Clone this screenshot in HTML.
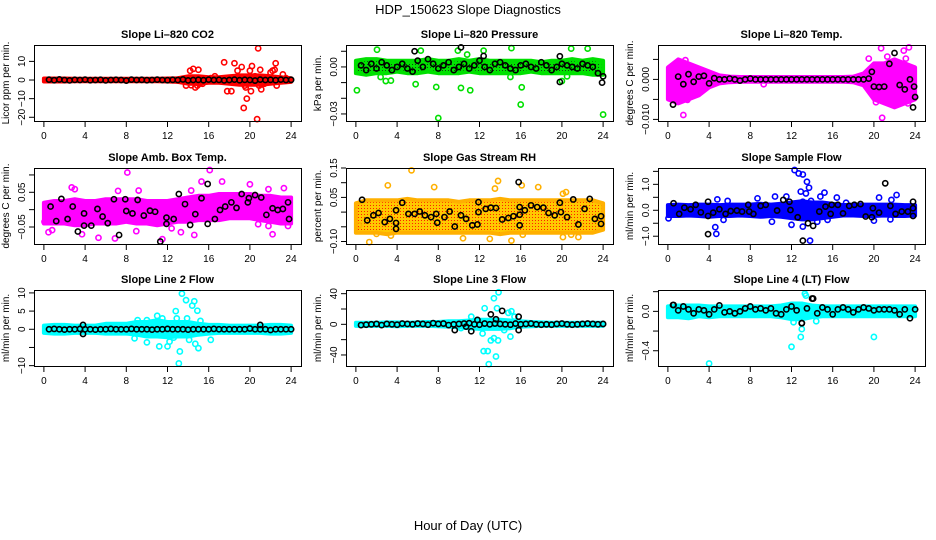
<!DOCTYPE html>
<html><head><meta charset="utf-8"><style>
html,body{margin:0;padding:0;background:#fff;width:936px;height:540px;overflow:hidden}
svg text{font-family:"Liberation Sans",sans-serif}
</style></head><body>
<svg id="chart" width="936" height="540" xmlns="http://www.w3.org/2000/svg">
<defs>
<pattern id="patG" width="3" height="3" patternUnits="userSpaceOnUse"><rect width="3" height="3" fill="#00e400"/><rect x="1" y="1" width="1" height="1" fill="#114411"/></pattern>
<pattern id="patO" width="3" height="3" patternUnits="userSpaceOnUse"><rect width="3" height="3" fill="#ffc800"/><rect x="1" y="1" width="1" height="1" fill="#ff2000"/></pattern>
</defs>
<text x="468" y="14" font-size="13" text-anchor="middle">HDP_150623  Slope Diagnostics</text>
<text x="468" y="530" font-size="13" text-anchor="middle">Hour of Day (UTC)</text>
</svg>
<script>
// ---- shared data ----
const xTicks=[0,4,8,12,16,20,24];
const stdHours=[0.5,1,1.5,2,2.5,3,3.5,4,4.5,5,5.5,6,6.5,7,7.5,8,8.5,9,9.5,10,10.5,11,11.5,12,12.5,13,13.5,14,14.5,15,15.5,16,16.5,17,17.5,18,18.5,19,19.5,20,20.5,21,21.5,22,22.5,23,23.5,24];
const bandHours=[0,1,2,3,4,5,6,7,8,9,10,11,12,13,14,15,16,17,18,19,20,21,22,23,24];

// Panel 1: CO2
const p1Lo=[-0.8,-0.8,-0.8,-0.7,-0.7,-0.7,-0.7,-0.7,-0.7,-0.7,-0.7,-0.7,-0.8,-1,-2,-2,-1.5,-1.5,-2,-2.5,-2.5,-2.5,-2,-1.5,-1];
const p1Hi=[0.8,0.8,0.8,0.7,0.7,0.7,0.7,0.7,0.7,0.7,0.7,0.7,0.8,1,2,2,1.5,1.5,2,2.5,2.5,2.5,2,1.5,1];
const p1OutH=[14.2,14.5,14.3,13.8,14.7,15,15.1,14.9,15.4,16.2,16.6,17.5,17.8,18.2,18.5,18.8,18.7,19.2,19.4,19.6,19.7,19.5,20,20.2,20.1,20.5,20.7,20.8,20.9,21,21.1,21.4,21.7,22,22.2,22.5,22.6,22.4,23.2,23.5];
const p1OutV=[5,6,-2.8,-3,-4,5.5,-2,-3,-2,1,2,9.5,-6,-6,9,5,-1,7,-15,-4,-10,-3,5,7.5,-6,2,-21,17,-3,5.5,-5,-2,-1,4,5,9,-3,5.5,3,1];
const p1BlkV=[0.2,-0.1,0.3,0,-0.2,0.1,0,0.2,-0.1,0,0.1,-0.2,0,0.1,0,-0.3,0.2,0,0.1,-0.1,0,0.2,0,-0.1,0.1,0,0.3,-0.2,0,0.1,-0.1,0.2,0,0.1,-0.2,0,0.2,-0.1,0.1,0,-0.3,0.2,0,0.1,-0.1,0.2,0,0.1];
const p1ExH=[], p1ExV=[];

// Panel 2: Pressure
const p2Lo=[-0.004,-0.005,-0.004,-0.004,-0.003,-0.004,-0.004,-0.003,-0.004,-0.004,-0.004,-0.003,-0.004,-0.004,-0.004,-0.004,-0.004,-0.003,-0.004,-0.004,-0.004,-0.004,-0.004,-0.005,-0.005];
const p2Hi=[0.004,0.005,0.005,0.004,0.004,0.004,0.004,0.005,0.004,0.004,0.005,0.004,0.005,0.004,0.004,0.004,0.004,0.004,0.003,0.004,0.004,0.005,0.004,0.005,0.004];
const p2OutH=[0.1,2.05,2.4,2.9,3.4,5.8,6.3,7.8,8.0,10.2,9.9,11.1,10.8,12.4,15.0,15.1,16.1,16.0,20.9,22.5,24.0,20,20.5];
const p2OutV=[-0.0149,0.011,-0.0064,-0.009,-0.0087,-0.011,0.0104,-0.0128,-0.0326,-0.0134,0.0104,-0.0149,0.0079,0.0104,-0.0064,0.012,-0.013,-0.024,0.0117,0.0117,-0.0304,-0.009,-0.006];
const p2BlkV=[0.001,-0.002,0.002,-0.001,0.003,0.001,-0.002,0.000,0.002,-0.001,-0.003,0.004,0.000,0.005,0.002,-0.001,0.001,0.003,-0.002,0.000,0.002,-0.001,0.001,0.004,0.000,-0.002,0.002,0.003,0.001,-0.001,-0.002,0.001,0.002,0.000,-0.001,0.003,0.001,-0.002,0.000,0.002,0.001,0.000,-0.001,0.002,0.001,0.000,-0.004,-0.006];
const p2ExH=[5.7,10.2,19.8,19.8,23.9,12.4], p2ExV=[0.010,0.0125,0.0068,-0.0096,-0.010,0.007];

// Panel 3: Li-820 Temp
const p3Lo=[-0.005,-0.006,-0.005,-0.004,-0.002,-0.001,-0.0007,-0.0006,-0.0006,-0.0006,-0.0006,-0.0006,-0.0006,-0.0006,-0.0006,-0.0006,-0.0006,-0.0006,-0.0007,-0.0015,-0.005,-0.006,-0.007,-0.006,-0.005];
const p3Hi=[0.003,0.005,0.004,0.003,0.002,0.001,0.0007,0.0006,0.0006,0.0006,0.0006,0.0006,0.0006,0.0006,0.0006,0.0006,0.0006,0.0006,0.0007,0.0015,0.004,0.004,0.005,0.004,0.003];
const p3OutH=[1.5,1.7,1.9,9.3,19.5,20.7,20.8,21.3,20.2,22.2,22.9,23.1,23.4,23.3,22,21.6];
const p3OutV=[-0.0089,0.0048,-0.0051,-0.0012,0.0052,0.0078,-0.0096,0.0057,-0.0057,-0.0063,0.0072,0.0052,0.008,-0.006,-0.005,-0.003];
const p3BlkV=[-0.0063,0.0007,-0.0012,0.0013,-0.0006,0.0007,0.0009,-0.001,0.0003,0,0,0.0002,0,-0.0003,0,0.0002,0,0,0,0,0,0,0,0,0,0,0,0,0,0,0,0,0,0,0,0,0,0,0.0002,-0.0018,-0.0019,-0.0018,0.0039,0.0066,-0.0014,-0.0025,0.0000,-0.0044];
const p3ExH=[19.8,23.8,23.9], p3ExV=[0.0019,-0.007,-0.0018];

// Panel 4: Amb. Box Temp
const p4Lo=[-0.04,-0.04,-0.04,-0.045,-0.045,-0.04,-0.04,-0.04,-0.035,-0.04,-0.04,-0.045,-0.04,-0.035,-0.035,-0.03,-0.03,-0.03,-0.025,-0.025,-0.025,-0.03,-0.035,-0.04,-0.04];
const p4Hi=[0.02,0.025,0.025,0.03,0.025,0.025,0.03,0.03,0.03,0.03,0.025,0.025,0.025,0.03,0.035,0.04,0.04,0.045,0.045,0.045,0.045,0.04,0.04,0.035,0.035];
const p4OutH=[8.1,16.1,2.7,3.0,15.3,17.3,20,23.3,0.45,0.8,3.7,5.3,6.9,11.5,13.3,14.6,20.8,22.2,21.8,7.2,9.2,14.3,21.8,0.06,23.7,12.4,8.97];
const p4OutV=[0.107,0.114,0.064,0.059,0.081,0.081,0.073,0.062,-0.065,-0.059,-0.071,-0.081,-0.083,-0.085,-0.065,-0.073,-0.042,-0.071,-0.047,0.054,0.055,0.055,0.059,-0.035,-0.047,-0.054,-0.062];
const p4BlkH=[0.65,1.2,1.7,2.3,2.8,3.3,3.9,3.9,4.6,5.2,5.7,6.2,6.8,7.3,7.9,8,8.6,9.1,9.7,10.3,10.8,11.3,11.9,11.9,12.6,13.1,13.7,14.2,14.7,15.3,15.9,15.9,16.6,17.1,17.6,18.2,18.7,19.2,19.8,19.9,20.5,21.1,21.6,22.2,22.7,23.2,23.7,23.8];
const p4BlkV=[0.009,-0.033,0.031,-0.027,0.009,-0.063,-0.011,-0.046,-0.046,0.002,-0.02,-0.039,0.03,-0.073,0.03,-0.004,-0.011,0.028,-0.017,-0.003,-0.006,-0.092,-0.023,-0.041,-0.027,0.045,0.016,-0.044,-0.013,0.033,0.074,-0.041,-0.027,-0.001,0.009,0.021,0.005,0.045,0.021,0.033,0.042,0.035,-0.015,0.004,-0.001,0.002,0.021,-0.027];

// Panel 5: Gas Stream RH
const p5Lo=[-0.07,-0.07,-0.07,-0.075,-0.07,-0.07,-0.07,-0.07,-0.07,-0.07,-0.07,-0.07,-0.07,-0.07,-0.075,-0.07,-0.07,-0.07,-0.07,-0.07,-0.07,-0.07,-0.07,-0.07,-0.06];
const p5Hi=[0.03,0.04,0.04,0.04,0.04,0.045,0.04,0.04,0.04,0.04,0.035,0.04,0.04,0.04,0.045,0.04,0.04,0.04,0.04,0.04,0.04,0.04,0.04,0.04,0.03];
const p5OutH=[5.4,3.1,7.6,13.8,16.1,17.7,13.5,1.3,2.0,3.4,10.4,13,15.1,16.2,20.1,20.9,21.6,0.3,20.1,20.4];
const p5OutV=[0.142,0.091,0.085,0.106,0.091,0.085,0.08,-0.102,-0.074,-0.08,-0.089,-0.091,-0.097,-0.077,-0.085,-0.077,-0.085,-0.045,0.0625,0.068];
const p5BlkH=[0.6,1.1,1.7,2.2,2.8,3.3,3.9,3.9,3.9,4.5,5.1,5.7,6.2,6.7,7.3,7.8,7.9,8.6,9.1,9.6,10.2,10.7,11.3,11.8,11.9,11.9,12.6,13.1,13.6,14.2,14.8,15.3,15.9,15.9,15.8,15.9,16.4,17,17.6,18.2,18.7,19.3,19.8,19.9,20.5,21.1,21.6,22.2,22.7,23.2,23.8,23.8];
const p5BlkV=[0.042,-0.028,-0.011,-0.003,-0.034,-0.023,0.006,-0.037,-0.057,0.032,-0.006,-0.006,0.002,-0.011,-0.017,-0.006,-0.036,-0.017,0.002,-0.049,-0.011,-0.023,-0.045,-0.042,0,0.034,0.011,0.015,0.014,-0.025,-0.02,-0.014,-0.009,-0.045,0.102,0.017,0.006,0.023,0.017,0.015,-0.003,-0.011,0.032,0,-0.017,0.043,-0.042,0.011,0.045,-0.023,-0.014,-0.04];

// Panel 6: Sample Flow
const p6Lo=[-0.22,-0.22,-0.2,-0.22,-0.25,-0.22,-0.22,-0.2,-0.22,-0.25,-0.22,-0.25,-0.3,-0.35,-0.35,-0.3,-0.25,-0.2,-0.2,-0.22,-0.22,-0.2,-0.22,-0.22,-0.2];
const p6Hi=[0.2,0.22,0.2,0.22,0.22,0.2,0.22,0.22,0.22,0.25,0.22,0.25,0.3,0.35,0.3,0.3,0.25,0.2,0.22,0.22,0.22,0.22,0.22,0.2,0.2];
const p6OutH=[12.3,12.7,13.1,13.5,13.7,12.9,13.4,13.9,13.1,15.2,14.8,16.4,17.3,20.5,22.2,21.7,4.8,5.8,8.7,10.4,11.5,4.6,4.7,12.0,13.8,13.1,14.5,0.06,5.4,10.1,15.5,20,21.6];
const p6OutV=[1.55,1.42,1.38,1.1,0.87,0.72,0.65,0.36,0.33,0.68,0.53,0.49,0.29,0.49,0.59,0.4,0.42,0.36,0.46,0.53,0.53,-0.65,-0.91,-0.56,-1.17,-0.63,-0.44,-0.31,-0.37,-0.44,-0.37,-0.4,-0.35];
const p6BlkH=[0.55,1.1,1.6,2.2,2.7,3.2,3.9,3.9,3.9,4.4,5.0,5.6,6.1,6.7,7.2,7.8,7.9,8.3,9.0,9.5,10.6,11.2,11.8,11.9,12.6,13.1,13.6,14.1,14.7,15.3,15.8,15.9,16.5,17.0,17.6,18.1,18.7,19.2,19.8,19.9,20.5,21.1,21.6,22.1,22.7,23.3,23.8,23.8,23.8];
const p6BlkV=[0.27,-0.14,0.1,0.04,0.21,-0.08,0.33,-0.22,-0.92,-0.09,0.04,-0.14,-0.03,-0.01,-0.05,0.21,-0.05,-0.14,0.17,0.21,-0.01,0.4,0.33,0.01,-0.27,-1.17,-0.5,-0.6,-0.05,0.14,-0.14,0.21,0.21,-0.12,0.17,0.21,0.24,-0.24,-0.27,0.08,-0.09,1.04,0.17,-0.14,-0.05,-0.05,0.33,-0.22,0.08];

// Panel 7: Line 2 Flow
const p7Lo=[-1,-1.2,-1.2,-1,-1,-1,-1.2,-1.2,-1.2,-1.5,-2,-2,-2.2,-2,-2,-1.5,-1.2,-1,-1,-1,-1,-1,-1.2,-1.2,-1];
const p7Hi=[1,1.2,1.2,1,1,1,1.5,1.5,1.5,2,2,2.5,2,2,2,1.5,1.2,1.2,1,1,1,1,1.2,1.2,1];
const p7OutH=[13.4,13.8,12.8,12.9,14.4,14.6,13.9,14.9,15.2,11,11.5,13.2,13.1,14.7,15,11.2,12,12.2,10,16.2,10,9.1,8.8,14.1,12.6];
const p7OutV=[9.8,8,5,3,6.5,7.7,3,5.1,2.3,3.7,3,-6.1,-9.4,-4,-5.2,-4.7,-4.7,-3.4,-3.6,-2.9,2.5,2.5,-2.5,-2.9,-2.3];
const p7BlkV=[0,0.1,0,-0.1,0,0,0.1,0,0,-0.1,0,0,0.1,0,0,0,0.1,0,0,0,-0.1,0,0,0.1,0,0,0,-0.1,0,0,0,0,0.1,0,0,0,0,0,0,0.2,0,0,0,-0.2,0,0,0,0];
const p7ExH=[3.8,3.8,21], p7ExV=[1.2,-1.3,1.2];

// Panel 8: Line 3 Flow
const p8Lo=[-2,-2,-2,-2,-2.5,-2,-2,-2,-2.5,-3,-4,-5,-6,-6,-6,-5,-3,-2.5,-2,-2,-2,-2,-2,-2,-2];
const p8Hi=[2,2,2,2.5,2.5,2,2.5,3,3,4,4,5,6,6,6,5,4,3,2.5,2,2,2,2,2,2];
const p8OutH=[13.85,13.4,13.7,12.5,12.3,12.4,12.8,12.9,13.6,13.1,13.4,13.8,15,14.4,14.8,15.4,11.2,10.2,15.1];
const p8OutV=[41.8,34,21,21,-12,-35,-35,-52,-42,-21,-18,-21,-16,-7.5,15,10,10,-5,17];
const p8BlkV=[-1,-0.5,0,0.5,-1,0.5,0,-0.5,1,0.5,0,1,0.5,-0.5,1.5,0.5,1,-1,0,0.5,1,1.5,0,-0.5,1,0,1,0.5,0,-0.5,1,0,0.5,1,0,-0.5,0,-0.5,0.5,1,0,-0.5,0,0.5,1,0.5,0,0.5];
const p8ExH=[9.6,11.2,13.1,14.2,13.6,11.8,15.8,15.8,10.7], p8ExV=[-7.5,-9,13,17.6,6.6,5.7,10,-7.5,-3];

// Panel 9: Line 4 (LT) Flow
const p9Lo=[-0.06,-0.06,-0.07,-0.05,-0.06,-0.05,-0.05,-0.05,-0.05,-0.05,-0.05,-0.06,-0.08,-0.08,-0.06,-0.05,-0.05,-0.05,-0.05,-0.05,-0.05,-0.05,-0.05,-0.05,-0.05];
const p9Hi=[0.05,0.06,0.06,0.06,0.05,0.05,0.05,0.05,0.05,0.05,0.05,0.06,0.08,0.08,0.06,0.05,0.05,0.05,0.05,0.05,0.05,0.05,0.05,0.05,0.05];
const p9OutH=[13.3,13.4,12.9,13.0,12,20,4,12.2,14.4];
const p9OutV=[0.18,0.16,-0.26,-0.18,-0.36,-0.26,-0.53,-0.11,-0.1];
const p9BlkV=[0.065,0.01,0.05,0.02,-0.02,0.02,0.01,-0.03,0.02,0.06,-0.01,0,-0.02,0,0.03,0.05,0.02,0.03,0.01,0.03,-0.02,-0.03,0.02,0.05,0.01,-0.12,0.03,0.13,-0.02,0.04,0.02,-0.03,0.02,0.04,0.02,-0.01,0.02,0.04,0.03,0.01,0.02,0.02,0.02,0.01,-0.03,0.02,-0.07,0.02];
const p9ExH=[14.1,13,0.55], p9ExV=[0.13,-0.12,0.065];

// ---- rendering ----
const NS='http://www.w3.org/2000/svg';
const svg=document.getElementById('chart');
function mk(tag,attrs,parent){const e=document.createElementNS(NS,tag);for(const k in attrs)e.setAttribute(k,attrs[k]);(parent||svg).appendChild(e);return e;}
const colL=[34,346,658], rowT=[45,168,290], W=267, H=76, XMIN=-0.96, XMAX=24.96;

const panels=[
 {title:'Slope Li\u2013820 CO2',ylab:'Licor ppm per min.',col:0,row:0,ylim:[-22,18.8],yt:[-20,-10,0,10],ytl:['\u221220','\u221210','0','10'],fill:'#ff0000',pt:'#ff0000',lo:p1Lo,hi:p1Hi,oh:p1OutH,ov:p1OutV,bh:stdHours,bv:p1BlkV,eh:p1ExH,ev:p1ExV,name:'co2'},
 {title:'Slope Li\u2013820 Pressure',ylab:'kPa per min.',col:1,row:0,ylim:[-0.0345,0.014],yt:[0.01,0,-0.01,-0.02,-0.03],ytl:['','0.00','','','\u22120.03'],fill:'url(#patG)',pt:'#00e000',lo:p2Lo,hi:p2Hi,oh:p2OutH,ov:p2OutV,bh:stdHours,bv:p2BlkV,eh:p2ExH,ev:p2ExV,name:'pressure'},
 {title:'Slope Li\u2013820 Temp.',ylab:'degrees C per min.',col:2,row:0,ylim:[-0.0104,0.0086],yt:[0.005,0,-0.005,-0.01],ytl:['','0.000','','\u22120.010'],fill:'#ff00ff',pt:'#ff00ff',lo:p3Lo,hi:p3Hi,oh:p3OutH,ov:p3OutV,bh:stdHours,bv:p3BlkV,eh:p3ExH,ev:p3ExV,name:'li820-temp'},
 {title:'Slope Amb. Box Temp.',ylab:'degrees C per min.',col:0,row:1,ylim:[-0.099,0.120],yt:[0.1,0.05,0,-0.05],ytl:['','0.05','','\u22120.05'],fill:'#ff00ff',pt:'#ff00ff',lo:p4Lo,hi:p4Hi,oh:p4OutH,ov:p4OutV,bh:p4BlkH,bv:p4BlkV,eh:[],ev:[],name:'amb-box-temp'},
 {title:'Slope Gas Stream RH',ylab:'percent per min.',col:1,row:1,ylim:[-0.1085,0.150],yt:[0.15,0.1,0.05,0,-0.05,-0.1],ytl:['0.15','','0.05','','','\u22120.10'],fill:'url(#patO)',pt:'#ffb000',lo:p5Lo,hi:p5Hi,oh:p5OutH,ov:p5OutV,bh:p5BlkH,bv:p5BlkV,eh:[],ev:[],name:'gas-stream-rh'},
 {title:'Slope Sample Flow',ylab:'ml/min per min.',col:2,row:1,ylim:[-1.30,1.63],yt:[1.5,1,0.5,0,-0.5,-1],ytl:['','1.0','','0.0','','\u22121.0'],fill:'#0000ff',pt:'#0000ff',lo:p6Lo,hi:p6Hi,oh:p6OutH,ov:p6OutV,bh:p6BlkH,bv:p6BlkV,eh:[],ev:[],name:'sample-flow'},
 {title:'Slope Line 2 Flow',ylab:'ml/min per min.',col:0,row:2,ylim:[-10.1,10.8],yt:[10,5,0,-5,-10],ytl:['10','5','0','','\u221210'],fill:'#00ffff',pt:'#00ffff',lo:p7Lo,hi:p7Hi,oh:p7OutH,ov:p7OutV,bh:stdHours,bv:p7BlkV,eh:p7ExH,ev:p7ExV,name:'line2-flow'},
 {title:'Slope Line 3 Flow',ylab:'ml/min per min.',col:1,row:2,ylim:[-54.4,44.8],yt:[40,20,0,-20,-40],ytl:['40','','0','','\u221240'],fill:'#00ffff',pt:'#00ffff',lo:p8Lo,hi:p8Hi,oh:p8OutH,ov:p8OutV,bh:stdHours,bv:p8BlkV,eh:p8ExH,ev:p8ExV,name:'line3-flow'},
 {title:'Slope Line 4 (LT) Flow',ylab:'ml/min per min.',col:2,row:2,ylim:[-0.555,0.217],yt:[0.2,0,-0.2,-0.4],ytl:['','0.0','','\u22120.4'],fill:'#00ffff',pt:'#00ffff',lo:p9Lo,hi:p9Hi,oh:p9OutH,ov:p9OutV,bh:stdHours,bv:p9BlkV,eh:p9ExH,ev:p9ExV,name:'line4-flow'}
];

panels.forEach(p=>{
  const L=colL[p.col], T=rowT[p.row], B=T+H, R=L+W;
  const xs=h=>L+(h-XMIN)/(XMAX-XMIN)*W;
  const ys=v=>B-(v-p.ylim[0])/(p.ylim[1]-p.ylim[0])*H;
  const g=mk('g',{});
  
  
  const clipId='clip-'+p.name;
  const cp=mk('clipPath',{id:clipId},g); mk('rect',{x:L-3,y:T-3,width:W+6,height:H+6},cp);
  const t=mk('text',{x:L+W/2,y:T-7,'font-size':'11','font-weight':'bold','text-anchor':'middle'},g);
  t.textContent=p.title;
  
  
  const yl=mk('text',{x:0,y:0,'font-size':'10','text-anchor':'middle',transform:`translate(${L-25},${T+H/2}) rotate(-90)`},g);
  yl.textContent=p.ylab;
  
  
  const plot=mk('g',{'clip-path':`url(#${clipId})`},g);
  // band
  let pts=[];
  bandHours.forEach((h,i)=>pts.push(xs(h).toFixed(1)+','+ys(p.hi[i]).toFixed(1)));
  for(let i=bandHours.length-1;i>=0;i--)pts.push(xs(bandHours[i]).toFixed(1)+','+ys(p.lo[i]).toFixed(1));
  const band=mk('polygon',{points:pts.join(' '),fill:p.fill,stroke:p.pt,'stroke-width':4,'stroke-linejoin':'round'},plot);
  
  
  p.oh.forEach((h,i)=>{
    const c=mk('circle',{cx:xs(h),cy:ys(p.ov[i]),r:2.6,fill:'none',stroke:p.pt,'stroke-width':1.6},plot);
    
    
  });
  const bh=p.bh.concat(p.eh), bv=p.bv.concat(p.ev);
  bh.forEach((h,i)=>{
    const c=mk('circle',{cx:xs(h),cy:ys(bv[i]),r:2.6,fill:'none',stroke:'#000','stroke-width':1.6},plot);
    
    
  });
  const box=mk('rect',{x:L+0.5,y:T+0.5,width:W,height:H,fill:'none',stroke:'#000','stroke-width':1},g);
  
  
  xTicks.forEach(v=>{
    const x=xs(v);
    mk('line',{x1:x,x2:x,y1:B+1,y2:B+6,stroke:'#000'},g);
    const tl=mk('text',{x:x,y:B+18,'font-size':'10','text-anchor':'middle'},g);
    tl.textContent=String(v);
    
    
  });
  p.yt.forEach((v,i)=>{
    const y=ys(v);
    mk('line',{x1:L-5,x2:L,y1:y,y2:y,stroke:'#000'},g);
    if(p.ytl[i]){
      const tl=mk('text',{x:0,y:0,'font-size':'10','text-anchor':'middle',transform:`translate(${L-9},${y}) rotate(-90)`},g);
      tl.textContent=p.ytl[i];
      
      
    }
  });
});
</script>
</body></html>
